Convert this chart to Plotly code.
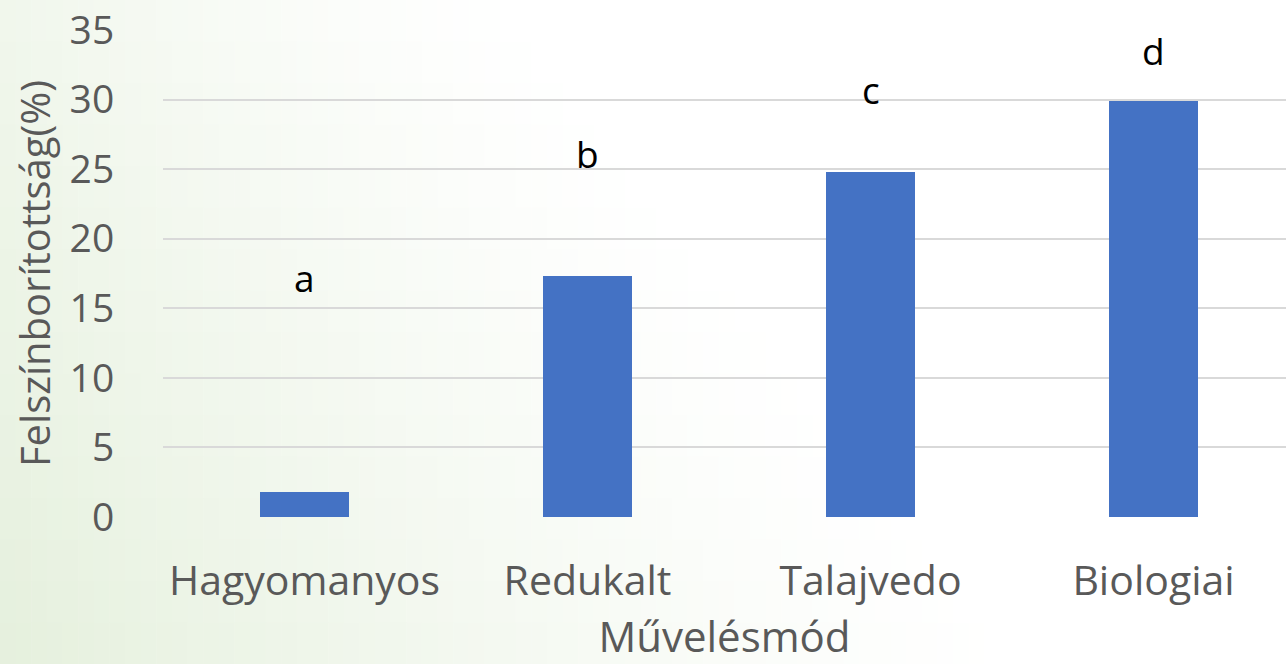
import plotly.graph_objects as go

categories = ["Hagyomanyos", "Redukalt", "Talajvedo", "Biologiai"]
values = [1.8, 17.3, 24.8, 29.9]
letters = ["a", "b", "c", "d"]
letter_y = [17.2, 26.1, 30.7, 33.5]
y_ticks = [0, 5, 10, 15, 20, 25, 30, 35]

W, H = 1286, 664
L, R, T, B = 163, 0, 30, 147
FONT = "Open Sans"
GRAY = "#595959"

fig = go.Figure()
fig.add_trace(go.Bar(
    x=list(range(len(categories))), y=values,
    marker=dict(color="#4472C4", line=dict(width=0)),
    width=0.314, showlegend=False, hoverinfo="skip",
))

for i, (lt, ly) in enumerate(zip(letters, letter_y)):
    fig.add_annotation(x=i, y=ly, text=lt, showarrow=False,
                       xanchor="center", yanchor="middle",
                       font=dict(family=FONT, size=37, color="#000000"))

# background gradient (light green at lower left fading to white)
pw = W - L - R
ph = H - T - B
nx, ny = 64, 16
g0 = (229, 240, 221)
for iy in range(ny):
    py0 = iy * H / ny
    py1 = (iy + 1) * H / ny
    fy = (iy + 0.5) / ny
    reach = 520 + 520 * fy
    strength = 0.55 + 0.45 * fy
    for ix in range(nx):
        px0 = ix * 1000 / nx
        px1 = (ix + 1) * 1000 / nx
        t = min(1.0, ((ix + 0.5) * 1000 / nx) / reach)
        a = strength * (1 - t) ** 1.3
        if a <= 0.01:
            continue
        c = tuple(round(255 - (255 - g0[j]) * a) for j in range(3))
        fig.add_shape(type="rect", xref="paper", yref="paper", layer="below",
                      x0=(px0 - L) / pw, x1=(px1 + 0.5 - L) / pw,
                      y0=(H - B - py1 - 0.5) / ph, y1=(H - B - py0) / ph,
                      fillcolor="rgb(%d,%d,%d)" % c, line=dict(width=0))

fig.update_layout(
    width=W, height=H,
    margin=dict(l=L, r=R, t=T, b=B, pad=0),
    paper_bgcolor="#ffffff", plot_bgcolor="rgba(0,0,0,0)",
    bargap=0,
    font=dict(family=FONT, color=GRAY),
    xaxis=dict(
        tickmode="array", tickvals=list(range(len(categories))), ticktext=categories,
        range=[-0.5, 3.5 - 9 / 283],
        showgrid=False, zeroline=False, showline=False,
        ticks="outside", ticklen=28, tickcolor="rgba(0,0,0,0)",
        tickfont=dict(family=FONT, size=41, color=GRAY),
        title=dict(text="Művelésmód", font=dict(family=FONT, size=42, color=GRAY), standoff=7),
    ),
    yaxis=dict(
        range=[0, 35], tickvals=y_ticks,
        showgrid=True, gridcolor="#d9d9d9", gridwidth=1.5,
        zeroline=False, showline=False,
        ticks="outside", ticklen=40, tickcolor="rgba(0,0,0,0)",
        tickfont=dict(family=FONT, size=39, color=GRAY),
        title=dict(text="Felszínborítottság(%)", font=dict(family=FONT, size=40, color=GRAY), standoff=6),
    ),
)

fig.write_html("out.html")
